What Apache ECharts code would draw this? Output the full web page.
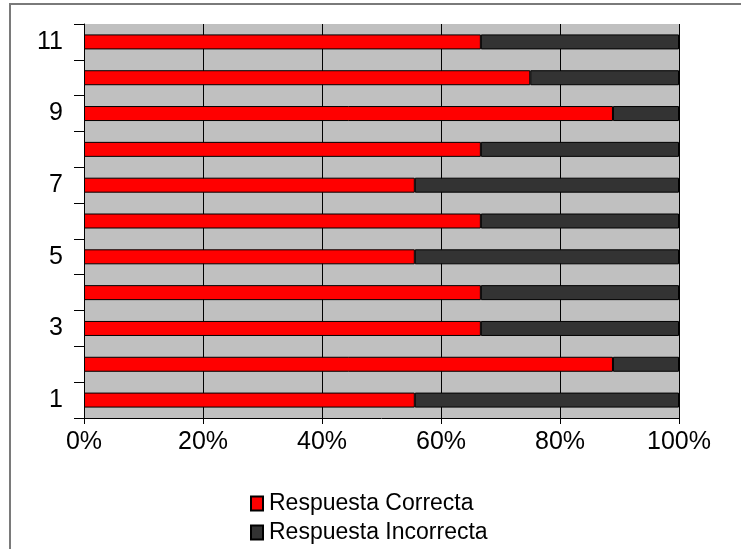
<!DOCTYPE html>
<html>
<head>
<meta charset="utf-8">
<script src="https://cdn.jsdelivr.net/npm/echarts@6/dist/echarts.min.js"></script>
<style>
  html, body { margin: 0; padding: 0; background: #ffffff; }
  #chart { width: 741px; height: 549px; }
</style>
</head>
<body>
<div id="chart"></div>
<script>
const categories = ['1', '2', '3', '4', '5', '6', '7', '8', '9', '10', '11'];
const correctValues = [55.6, 88.9, 66.7, 66.7, 55.6, 66.7, 55.6, 66.7, 88.9, 75.0, 66.7];
const incorrectValues = [44.4, 11.1, 33.3, 33.3, 44.4, 33.3, 44.4, 33.3, 11.1, 25.0, 33.3];
const seriesNames = ['Respuesta Correcta', 'Respuesta Incorrecta'];
const xTicks = { min: 0, max: 100, interval: 20 };

const chart = echarts.init(document.getElementById('chart'), null, { renderer: 'canvas' });
const font = '"Liberation Sans", Arial, sans-serif';

const legendBase = {
  orient: 'vertical',
  left: 245,
  itemWidth: 12, itemHeight: 14,
  icon: 'rect',
  textStyle: { fontFamily: font, fontSize: 23, color: '#000', padding: [0, 0, 0, 1] }
};

chart.setOption({
  animation: false,
  backgroundColor: '#ffffff',
  graphic: [{
    type: 'rect',
    shape: { x: 10, y: 4, width: 760, height: 580 },
    style: { fill: 'none', stroke: '#7a7a7a', lineWidth: 2 },
    silent: true
  }],
  grid: {
    left: 84, right: 62, top: 24, bottom: 131,
    show: true, backgroundColor: '#c0c0c0', borderWidth: 0
  },
  legend: [
    Object.assign({}, legendBase, { top: 487, data: [seriesNames[0]] }),
    Object.assign({}, legendBase, { top: 516, data: [seriesNames[1]] })
  ],
  xAxis: {
    type: 'value',
    min: xTicks.min, max: xTicks.max, interval: xTicks.interval,
    axisLine: { show: true, lineStyle: { color: '#000', width: 1 } },
    axisTick: { show: true, length: 6, lineStyle: { color: '#000' } },
    axisLabel: { formatter: '{value}%', fontFamily: font, fontSize: 25, color: '#000', margin: 12 },
    splitLine: { show: true, lineStyle: { color: '#000', width: 1 } }
  },
  yAxis: {
    type: 'category',
    data: categories,
    axisLine: { show: true, lineStyle: { color: '#000', width: 1 } },
    axisTick: { show: true, interval: 0, length: 10, lineStyle: { color: '#000' } },
    axisLabel: { interval: 1, fontFamily: font, fontSize: 25, color: '#000', margin: 21 },
    splitLine: { show: false }
  },
  series: [
    {
      name: seriesNames[0], type: 'bar', stack: 'total', barWidth: 15,
      itemStyle: { color: '#ff0000', borderColor: '#000', borderWidth: 1 },
      data: correctValues
    },
    {
      name: seriesNames[1], type: 'bar', stack: 'total', barWidth: 15,
      itemStyle: { color: '#333333', borderColor: '#000', borderWidth: 1 },
      data: incorrectValues
    }
  ]
});
</script>
</body>
</html>
